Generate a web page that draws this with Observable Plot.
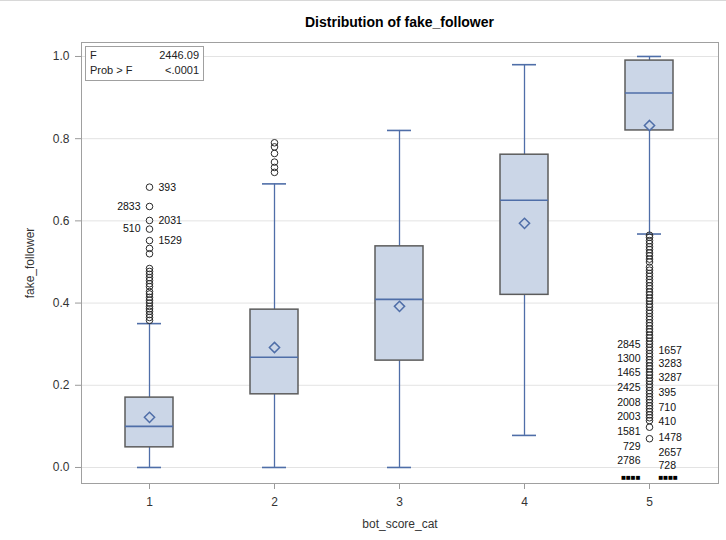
<!DOCTYPE html>
<html>
<head>
<meta charset="utf-8">
<script src="https://cdn.jsdelivr.net/npm/d3@7"></script>
<script src="https://cdn.jsdelivr.net/npm/@observablehq/plot@0.6"></script>
<style>
  html, body { margin: 0; padding: 0; background: #fff; }
  #wrap { position: relative; width: 726px; height: 540px; overflow: hidden; font-family: "Liberation Sans", Arial, sans-serif; }
  #topline { position: absolute; left: 0; top: 0; width: 726px; height: 0; border-top: 1px solid #d8d8d8; }
  #title { position: absolute; left: 81px; width: 637px; top: 14px; text-align: center; font-weight: bold; font-size: 14px; color: #000; }
  #inset { position: absolute; left: 85px; top: 46px; width: 119px; height: 35px; border: 1px solid #a0a0a0; background: #fff; font-size: 11px; color: #222; box-sizing: border-box; padding: 1px 4px; line-height: 15px; }
  #inset .row { display: flex; justify-content: space-between; }
  #chart { position: absolute; left: 0; top: 0; }
</style>
</head>
<body>
<div id="wrap">
  <div id="chart"></div>
  <div id="topline"></div>
  <div id="title">Distribution of fake_follower</div>
  <div id="inset">
    <div class="row"><span>F</span><span id="fval"></span></div>
    <div class="row"><span>Prob &gt; F</span><span id="pval"></span></div>
  </div>
</div>
<script>
// ---- data ----
const categories = [1, 2, 3, 4, 5];
const q1         = [0.049, 0.178, 0.260, 0.420, 0.820];
const median     = [0.100, 0.268, 0.409, 0.650, 0.911];
const q3         = [0.170, 0.384, 0.538, 0.761, 0.990];
const mean       = [0.122, 0.292, 0.392, 0.594, 0.832];
const whiskerLow = [0.000, 0.000, 0.000, 0.078, 0.568];
const whiskerHigh= [0.350, 0.690, 0.820, 0.980, 1.000];

const outliers1 = [0.358, 0.365, 0.372, 0.380, 0.386, 0.392, 0.400, 0.407, 0.414, 0.422, 0.428,
                   0.440, 0.447, 0.455, 0.462, 0.470, 0.477, 0.484, 0.520, 0.533, 0.552, 0.580,
                   0.601, 0.635, 0.682];
const outliers2 = [0.718, 0.730, 0.743, 0.764, 0.780, 0.790];
const outliers5 = [0.070, 0.098, 0.114, 0.121, 0.128, 0.136, 0.143, 0.150, 0.158, 0.165, 0.172,
                   0.180, 0.187, 0.195, 0.202, 0.210, 0.217, 0.225, 0.232, 0.240, 0.247, 0.255,
                   0.262, 0.270, 0.277, 0.285, 0.292, 0.300, 0.307, 0.315, 0.322, 0.330, 0.337,
                   0.345, 0.352, 0.360, 0.367, 0.375, 0.382, 0.390, 0.397, 0.405, 0.412, 0.420,
                   0.427, 0.435, 0.442, 0.450, 0.457, 0.465, 0.472, 0.480, 0.487, 0.500, 0.507,
                   0.515, 0.522, 0.530, 0.537, 0.545, 0.552, 0.560, 0.565];

const labels1Left  = [["2833", 0.635], ["510", 0.580]];
const labels1Right = [["393", 0.682], ["2031", 0.601], ["1529", 0.552]];
const labels5Left  = [["2845", 0.299], ["1300", 0.265], ["1465", 0.231], ["2425", 0.195], ["2008", 0.158],
                      ["2003", 0.124], ["1581", 0.088], ["729", 0.051], ["2786", 0.016]];
const labels5Right = [["1657", 0.285], ["3283", 0.253], ["3287", 0.219], ["395", 0.182], ["710", 0.146],
                      ["410", 0.112], ["1478", 0.073], ["2657", 0.036], ["728", 0.005]];
const clippedLabels = [[5, -0.025]];

const yTicks = [0, 0.2, 0.4, 0.6, 0.8, 1.0];
const fStat = "2446.09";
const pStat = "<.0001";

// ---- build ----
document.getElementById("fval").textContent = fStat;
document.getElementById("pval").textContent = pStat;

const boxes = categories.map((c, i) => ({cat: c, q1: q1[i], med: median[i], q3: q3[i], mean: mean[i], lo: whiskerLow[i], hi: whiskerHigh[i]}));
const outs = [
  ...outliers1.map(v => ({cat: 1, v})),
  ...outliers2.map(v => ({cat: 2, v})),
  ...outliers5.map(v => ({cat: 5, v}))
];
const lab = (arr, cat) => arr.map(([t, v]) => ({cat, t, v}));
const leftLabels = [...lab(labels1Left, 1), ...lab(labels5Left, 5)];
const rightLabels = [...lab(labels1Right, 1), ...lab(labels5Right, 5)];
const clipped = clippedLabels.map(([cat, v]) => ({cat, v}));

const HW = 0.192, CW = 0.096;
const blue = "#4f6ea8";
const boxFill = "#cbd6e7";

const chart = Plot.plot({
  width: 726,
  height: 540,
  marginLeft: 81,
  marginRight: 8,
  marginTop: 42,
  marginBottom: 57,
  style: {fontFamily: "'Liberation Sans', Arial, sans-serif", fontSize: "12px", background: "transparent"},
  x: {type: "linear", domain: [0.456, 5.552]},
  y: {domain: [-0.039, 1.034]},
  marks: [
    Plot.gridY(yTicks, {stroke: "#e3e3e3", strokeOpacity: 1}),
    Plot.ruleX(boxes, {x: "cat", y1: "q3", y2: "hi", stroke: blue, strokeWidth: 1.3}),
    Plot.ruleX(boxes, {x: "cat", y1: "lo", y2: "q1", stroke: blue, strokeWidth: 1.3}),
    Plot.ruleY(boxes, {y: "hi", x1: d => d.cat - CW, x2: d => d.cat + CW, stroke: blue, strokeWidth: 1.6}),
    Plot.ruleY(boxes, {y: "lo", x1: d => d.cat - CW, x2: d => d.cat + CW, stroke: blue, strokeWidth: 1.6}),
    Plot.rect(boxes, {x1: d => d.cat - HW, x2: d => d.cat + HW, y1: "q1", y2: "q3", fill: boxFill, stroke: "#5c5c5c", strokeWidth: 1.5}),
    Plot.ruleY(boxes, {y: "med", x1: d => d.cat - HW, x2: d => d.cat + HW, stroke: blue, strokeWidth: 1.6}),
    Plot.dot(boxes, {x: "cat", y: "mean", symbol: "diamond2", r: 4.6, stroke: blue, strokeWidth: 1.5, fill: boxFill}),
    Plot.dot(outs, {x: "cat", y: "v", r: 3.3, stroke: "#2b2b2b", strokeWidth: 1, fill: "none"}),
    Plot.text(leftLabels, {x: "cat", y: "v", text: "t", textAnchor: "end", dx: -9, fontSize: 10.5, fill: "#111"}),
    Plot.text(rightLabels, {x: "cat", y: "v", text: "t", textAnchor: "start", dx: 9, fontSize: 10.5, fill: "#111"}),
    Plot.text(clipped, {x: "cat", y: "v", text: () => "■■■■", textAnchor: "end", dx: -9, fontSize: 8, fill: "#000"}),
    Plot.text(clipped, {x: "cat", y: "v", text: () => "■■■■", textAnchor: "start", dx: 9, fontSize: 8, fill: "#000"}),
    Plot.axisY({ticks: yTicks, tickFormat: d3.format(".1f"), tickSize: 6, tickPadding: 6, stroke: "#9a9a9a", fill: "#333", fontSize: 12,
      label: "fake_follower", labelAnchor: "center", labelArrow: "none", labelOffset: 56}),
    Plot.axisX({ticks: categories, tickFormat: d => String(d), tickSize: 6, tickPadding: 8, stroke: "#9a9a9a", fill: "#333", fontSize: 12,
      label: "bot_score_cat", labelAnchor: "center", labelArrow: "none", labelOffset: 44}),
    Plot.frame({stroke: "#a0a0a0", strokeWidth: 1})
  ]
});
document.getElementById("chart").appendChild(chart);
</script>
</body>
</html>
